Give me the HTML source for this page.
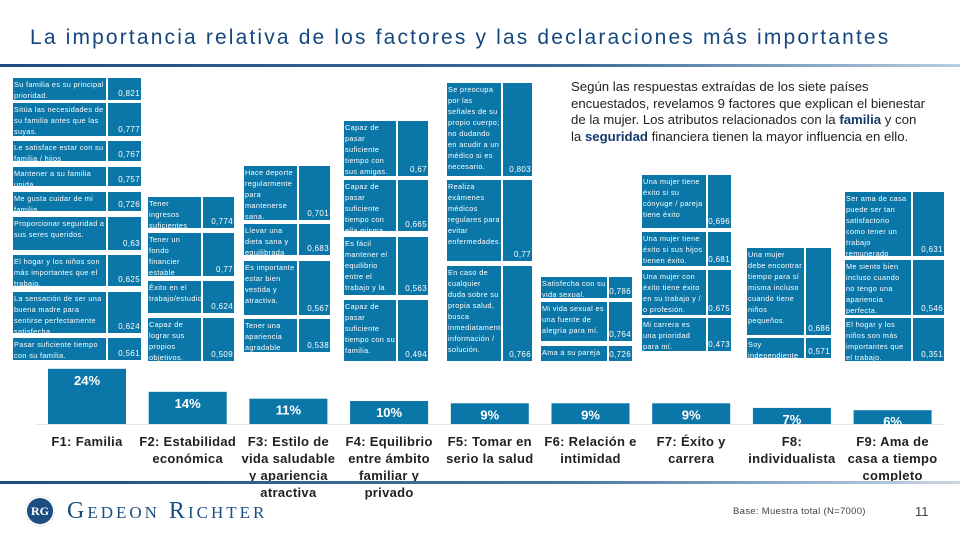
<!DOCTYPE html>
<html><head><meta charset="utf-8">
<style>
body{margin:0;width:960px;height:540px;background:#fff;position:relative;overflow:hidden;font-family:"Liberation Sans",sans-serif}
#title{position:absolute;left:30px;top:26px;font-size:21px;color:#14477e;letter-spacing:2.15px;white-space:nowrap}
#tline{position:absolute;left:0;top:64px;width:960px;height:3px;background:linear-gradient(90deg,#1b4d80,#3a6c9a 60%,#b9cde0)}
#para{position:absolute;left:571px;top:79px;width:390px;font-size:13.2px;line-height:16.5px;color:#222;white-space:nowrap}
#para b{color:#14386a}
.c{position:absolute;background:#0b77a8;color:#fff;font-size:7.3px;line-height:11px;letter-spacing:0.35px;box-sizing:border-box;overflow:hidden}
.t{padding:1px 1px 0 1px}
.v{display:flex;align-items:flex-end;justify-content:flex-end;padding:0 1px 1px 0;font-size:8px}
#bline{position:absolute;left:0;top:481px;width:960px;height:3px;background:linear-gradient(90deg,#1b4d80,#4a78a4 60%,#c9d7e5)}
.bl{position:absolute;font-size:13px;font-weight:bold;color:#222;text-align:center;line-height:17px;letter-spacing:0.3px}
</style></head><body>
<div id="title">La importancia relativa de los factores y las declaraciones más importantes</div>
<div id="tline"></div>
<div id="para">Según las respuestas extraídas de los siete países<br>encuestados, revelamos 9 factores que explican el bienestar<br>de la mujer. Los atributos relacionados con la <b>familia</b> y con<br>la <b>seguridad</b> financiera tienen la mayor influencia en ello.</div>
<div id="tables"></div>
<svg id="chart" style="position:absolute;left:0;top:0" width="960" height="540"></svg>
<div id="labels"></div>
<div id="bline"></div>
<div style="position:absolute;left:25px;top:496px;width:30px;height:30px;border-radius:50%;background:#1b4d80;color:#fff;font:bold 12px 'Liberation Serif',serif;text-align:center;line-height:30px;box-shadow:0 0 0 2px #fff inset">RG</div>
<div style="position:absolute;left:67px;top:498px;font:24px 'Liberation Serif',serif;color:#1b4d80;letter-spacing:3px;font-variant:small-caps">Gedeon Richter</div>
<div style="position:absolute;left:733px;top:506px;font-size:9.5px;color:#444;letter-spacing:0.3px">Base: Muestra total (N=7000)</div>
<div style="position:absolute;left:915px;top:504px;font-size:13px;color:#444">11</div>
<script>
// statement tables: [text, value]
var cols=[
 {x:13,w:95,vw:34,rows:[["Su familia es su principal prioridad.","0,821",78,102],["Sitúa las necesidades de su familia antes que las suyas.","0,777",103,138],["Le satisface estar con su familia / hijos","0,767",141,163],["Mantener a su familia unida","0,757",167,188],["Me gusta cuidar de mi familia","0,726",192,213],["Proporcionar seguridad a sus seres queridos.","0,63",217,252],["El hogar y los niños son más importantes que el trabajo.","0,625",255,288],["La sensación de ser una buena madre para sentirse perfectamente satisfecha.","0,624",292,335],["Pasar suficiente tiempo con su familia.","0,561",338,362]]},
 {x:148,w:55,vw:32,rows:[["Tener ingresos suficientes","0,774",197,230],["Tener un fondo financier estable","0,77",233,278],["Éxito en el trabajo/estudios","0,624",281,315],["Capaz de lograr sus propios objetivos.","0,509",318,363]]},
 {x:244,w:55,vw:32,rows:[["Hace deporte regularmente para mantenerse sana.","0,701",166,222],["Llevar una dieta sana y equilibrada","0,683",224,257],["Es importante estar bien vestida y atractiva.","0,567",261,317],["Tener una apariencia agradable","0,538",319,354]]},
 {x:344,w:54,vw:31,rows:[["Capaz de pasar suficiente tiempo con sus amigas.","0,67",121,178],["Capaz de pasar suficiente tiempo con ella misma","0,665",180,233],["Es fácil mantener el equilibrio entre el trabajo y la familia.","0,563",237,297],["Capaz de pasar suficiente tiempo con su familia.","0,494",300,363]]},
 {x:447,w:56,vw:30,rows:[["Se preocupa por las señales de su propio cuerpo; no dudando en acudir a un médico si es necesario.","0,803",83,178],["Realiza exámenes médicos regulares para evitar enfermedades.","0,77",180,263],["En caso de cualquier duda sobre su propia salud, busca inmediatamente información / solución.","0,766",266,363]]},
 {x:541,w:68,vw:24,rows:[["Satisfecha con su vida sexual.","0,786",277,300],["Mi vida sexual es una fuente de alegría para mí.","0,764",302,343],["Ama a su pareja","0,726",346,363]]},
 {x:642,w:66,vw:24,rows:[["Una mujer tiene éxito si su cónyuge / pareja tiene éxito","0,696",175,230],["Una mujer tiene éxito si sus hijos tienen éxito.","0,681",232,268],["Una mujer con éxito tiene éxito en su trabajo y / o profesión.","0,675",270,317],["Mi carrera es una prioridad para mí.","0,473",318,353]]},
 {x:747,w:59,vw:26,rows:[["Una mujer debe encontrar tiempo para sí misma incluso cuando tiene niños pequeños.","0,686",248,337],["Soy independiente","0,571",338,360]]},
 {x:845,w:68,vw:32,rows:[["Ser ama de casa puede ser tan satisfactorio como tener un trabajo remunerado","0,631",192,258],["Me siento bien incluso cuando no tengo una apariencia perfecta.","0,546",260,317],["El hogar y los niños son más importantes que el trabajo.","0,351",318,363]]}
];
var T=document.getElementById('tables');
cols.forEach(function(c,ci){c.rows.forEach(function(r,ri){
 var a=document.createElement('div');a.className='c t';
 
 
 a.style.cssText='left:'+c.x+'px;top:'+r[2]+'px;width:'+(c.w-2)+'px;height:'+(r[3]-r[2]-2)+'px';
 a.textContent=r[0];T.appendChild(a);
 var b=document.createElement('div');b.className='c v';
 
 
 b.style.cssText='left:'+(c.x+c.w)+'px;top:'+r[2]+'px;width:'+(c.vw-1)+'px;height:'+(r[3]-r[2]-2)+'px';
 b.textContent=r[1];T.appendChild(b);
});});

// bar chart data
var factors=["F1: Familia","F2: Estabilidad económica","F3: Estilo de vida saludable y apariencia atractiva","F4: Equilibrio entre ámbito familiar y privado","F5: Tomar en serio la salud","F6: Relación e intimidad","F7: Éxito y carrera","F8: individualista","F9: Ama de casa a tiempo completo"];
var labelLines=[["F1: Familia"],["F2: Estabilidad","económica"],["F3: Estilo de","vida saludable","y apariencia","atractiva"],["F4: Equilibrio","entre ámbito","familiar y","privado"],["F5: Tomar en","serio la salud"],["F6: Relación e","intimidad"],["F7: Éxito y","carrera"],["F8:","individualista"],["F9: Ama de","casa a tiempo","completo"]];
var shares=[24,14,11,10,9,9,9,7,6];
var shareLabels=["24%","14%","11%","10%","9%","9%","9%","7%","6%"];
var baseY=424, pxPer=2.3, x0=48, step=100.7, bw=78;
function xs(i){return x0+i*step;}
function ys(v){return baseY-v*pxPer;}
var S=document.getElementById('chart'),NS='http://www.w3.org/2000/svg';
var ax=document.createElementNS(NS,'line');


ax.setAttribute('x1',36);ax.setAttribute('x2',944);ax.setAttribute('y1',baseY+0.5);ax.setAttribute('y2',baseY+0.5);ax.setAttribute('stroke','#e0e6ec');S.appendChild(ax);
var L=document.getElementById('labels');
shares.forEach(function(v,i){
 var r=document.createElementNS(NS,'rect');
 
 
 r.setAttribute('x',xs(i));r.setAttribute('y',ys(v));r.setAttribute('width',bw);r.setAttribute('height',baseY-ys(v));r.setAttribute('fill','#0b77a8');S.appendChild(r);
 var t=document.createElementNS(NS,'text');
 
 
 t.setAttribute('x',xs(i)+bw/2);t.setAttribute('y',ys(v)+16);t.setAttribute('text-anchor','middle');t.setAttribute('fill','#fff');t.setAttribute('font-size','13');t.setAttribute('font-weight','bold');t.setAttribute('font-family','Liberation Sans, sans-serif');
 t.textContent=shareLabels[i];S.appendChild(t);
 var d=document.createElement('div');d.className='bl';
 
 
 d.style.left=(xs(i)+bw/2-55)+'px';d.style.width='110px';d.style.top='433px';
 d.innerHTML=labelLines[i].join('<br>');L.appendChild(d);
});
</script>
</body></html>
